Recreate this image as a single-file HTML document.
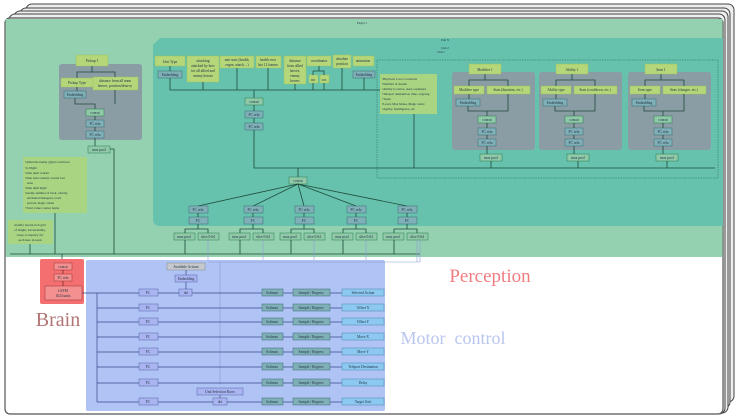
<!DOCTYPE html>
<html><head><meta charset="utf-8"><style>
html,body{margin:0;padding:0;background:#fff;width:740px;height:417px;overflow:hidden}
svg{display:block;font-family:"Liberation Serif",serif}
.t{font-size:3.6px;fill:#234;text-anchor:middle}
.f{fill:#b5d77a;stroke:#9cc060;stroke-width:.5}
.g{fill:#8fc9a8;stroke:#2a7a50;stroke-width:.5}
.b{fill:#7fb0b8;stroke:#3a6a70;stroke-width:.5}
.m{fill:#a9b4f0;stroke:#5566aa;stroke-width:.5}
.o{fill:#8cc8f0;stroke:#4a88b0;stroke-width:.5}
.l{stroke:#1f4a3a;stroke-width:.8;fill:none}
.lb{stroke:#3a4a8a;stroke-width:.7;fill:none}
</style></head><body>
<svg width="740" height="417" viewBox="0 0 740 417">
<!-- stacked frames -->
<rect x="26" y="4" width="708" height="398" rx="6" fill="#eee" stroke="#444"/>
<rect x="20" y="8" width="710" height="400" rx="6" fill="#eee" stroke="#444"/>
<rect x="14" y="11" width="714" height="402" rx="6" fill="#eee" stroke="#444"/>
<rect x="9" y="14" width="716" height="400" rx="6" fill="#eee" stroke="#444"/>
<rect x="5" y="18" width="718" height="396" rx="5" fill="#fff" stroke="#555" stroke-width="1.2"/>
<rect x="5.6" y="19" width="717" height="238" fill="#93d1b0"/>
<text x="362" y="24" class="t" style="font-size:3px">Player 1</text>
<!-- teal unit area -->
<path d="M160 38 L723 38 L723 226 L160 226 Q153 226 153 219 L153 45 Z" fill="#66c2ad"/>
<text x="445" y="41" class="t" style="font-size:3px">Unit N</text>
<text x="445" y="49" class="t" style="font-size:3px">Unit 2</text>
<text x="441" y="53" class="t" style="font-size:3px">Unit 1</text>
<rect x="377" y="60" width="341" height="118" fill="none" stroke="#2a6a5a" stroke-width=".5" stroke-dasharray="1.5 1"/>
<!-- pickup -->
<rect x="59" y="64" width="83" height="76" rx="3" fill="#8a9ca4"/>
<rect x="76" y="55" width="32" height="11" class="f"/><text x="92" y="62" class="t">Pickup 1</text>
<rect x="61" y="78" width="33" height="9" class="f"/><text x="77" y="84" class="t">Pickup Type</text>
<rect x="93" y="77" width="45" height="13" class="f"/><text x="115" y="82" class="t">distance from all team</text><text x="115" y="87" class="t">heroes, position/destroy</text>
<rect x="64" y="91" width="22" height="7" class="b"/><text x="75" y="96" class="t">Embedding</text>
<rect x="86" y="109" width="18" height="7" class="g"/><text x="95" y="114" class="t">concat</text>
<rect x="86" y="120" width="18" height="7" class="b"/><text x="95" y="125" class="t">FC relu</text>
<rect x="86" y="131" width="18" height="7" class="b"/><text x="95" y="136" class="t">FC relu</text>
<rect x="88" y="146" width="22" height="7" class="g"/><text x="99" y="151" class="t">max pool</text>
<path class="l" d="M92 66 V72 H77 V78 M92 72 H115 V77 M77 87 V91 M75 98 V104 H95 V109 M115 90 V104 M95 116 V120 M95 127 V131 M95 138 V146 M110 149 H114 V254"/>
<!-- left text boxes -->
<rect x="23" y="157" width="64" height="56" fill="#a9d482"/>
<g class="t" style="text-anchor:start;font-size:3.3px"><text x="25" y="163">•Allied &amp; enemy glyph cooldown</text><text x="25" y="169">•is Night</text><text x="25" y="174">•time until courier</text><text x="25" y="179">•time since enemy courier last</text><text x="27" y="184">seen</text><text x="25" y="189">•time until night</text><text x="25" y="194">•enemy number of back, charity,</text><text x="27" y="199">enchanted mangoes, town</text><text x="27" y="204">portals, magic sticks</text><text x="25" y="209">•Total value courier items</text></g>
<rect x="8" y="220" width="45" height="24" fill="#a9d482"/>
<g class="t" style="font-size:3.3px"><text x="30" y="226">modify terrain rich grid</text><text x="30" y="231">of height, traversability,</text><text x="30" y="236">creep occupancy for</text><text x="30" y="241">each hero in team</text></g>
<path class="l" d="M55 213 V254 M30 244 V254 M10 254 H420 M62 254 V259"/>
<!-- unit features -->
<rect x="155" y="56" width="30" height="10" class="f"/><text x="170" y="63" class="t">Unit Type</text>
<rect x="187" y="56" width="32" height="26" class="f"/><text x="203" y="62" class="t">attacking</text><text x="203" y="67" class="t">attacked by how</text><text x="203" y="72" class="t">for all allied and</text><text x="203" y="77" class="t">enemy heroes</text>
<rect x="220" y="56" width="34" height="12" class="f"/><text x="237" y="61" class="t">unit stats (health,</text><text x="237" y="66" class="t">regen, attack... )</text>
<rect x="256" y="56" width="25" height="12" class="f"/><text x="268" y="61" class="t">health over</text><text x="268" y="66" class="t">last 12 frames</text>
<rect x="284" y="56" width="22" height="28" class="f"/><text x="295" y="62" class="t">distance</text><text x="295" y="67" class="t">from allied</text><text x="295" y="72" class="t">heroes,</text><text x="295" y="77" class="t">enemy</text><text x="295" y="82" class="t">heroes</text>
<rect x="307" y="56" width="24" height="10" class="f"/><text x="319" y="62" class="t">coordinates</text>
<rect x="309" y="75" width="9" height="8" class="f"/><text x="313" y="81" class="t">sin</text>
<rect x="320" y="75" width="9" height="8" class="f"/><text x="324" y="81" class="t">cos</text>
<rect x="333" y="55" width="18" height="13" class="f"/><text x="342" y="60" class="t">absolute</text><text x="342" y="65" class="t">position</text>
<rect x="353" y="56" width="21" height="10" class="f"/><text x="363" y="62" class="t">animation</text>
<rect x="158" y="71" width="24" height="7" class="b"/><text x="170" y="76" class="t">Embedding</text>
<rect x="353" y="71" width="22" height="7" class="b"/><text x="364" y="76" class="t">Embedding</text>
<path class="l" d="M170 66 V71 M170 78 V90 M203 82 V90 M237 68 V90 M268 68 V90 M295 84 V90 M319 66 V71 M313 71 H324 V75 M313 71 V75 M313 83 V90 M324 83 V90 M342 68 V90 M364 78 V90 M170 90 H415 M254 90 V98"/>
<rect x="245" y="98" width="18" height="7" class="g"/><text x="254" y="103" class="t">concat</text>
<rect x="245" y="111" width="18" height="7" class="b"/><text x="254" y="116" class="t">FC relu</text>
<rect x="245" y="123" width="18" height="7" class="b"/><text x="254" y="128" class="t">FC relu</text>
<path class="l" d="M254 105 V111 M254 118 V123 M254 130 V168 H715 M298 168 V177"/>
<rect x="380" y="74" width="57" height="40" fill="#a9d482"/>
<g class="t" style="text-anchor:start;font-size:3.3px"><text x="382" y="80">•Buyback Cost, Cooldown</text><text x="382" y="85">•Number of deaths</text><text x="382" y="90">•Ability is active, used, orphaned</text><text x="382" y="95">•Teleport destination, time, ongoing</text><text x="382" y="100">•Team</text><text x="382" y="105">•Level, Max Mana, Magic resist</text><text x="382" y="110">•Agility, Intelligence, etc</text></g>
<path class="l" d="M414 114 V168"/>
<!-- modifier / ability / item -->
<g>
<rect x="452" y="72" width="83" height="78" rx="3" fill="#8a9ca4"/>
<rect x="469" y="64" width="32" height="10" class="f"/><text x="485" y="71" class="t">Modifier 1</text>
<rect x="454" y="86" width="30" height="8" class="f"/><text x="469" y="91" class="t">Modifier type</text>
<rect x="487" y="86" width="43" height="8" class="f"/><text x="508" y="91" class="t">Stats (duration, etc.)</text>
<rect x="456" y="99" width="24" height="7" class="b"/><text x="468" y="104" class="t">Embedding</text>
<rect x="478" y="116" width="18" height="7" class="g"/><text x="487" y="121" class="t">concat</text>
<rect x="478" y="128" width="18" height="7" class="b"/><text x="487" y="133" class="t">FC relu</text>
<rect x="478" y="139" width="18" height="7" class="b"/><text x="487" y="144" class="t">FC relu</text>
<rect x="480" y="154" width="22" height="7" class="g"/><text x="491" y="159" class="t">max pool</text>
<path class="l" d="M485 74 V80 H469 V86 M485 80 H508 V86 M469 94 V99 M468 106 V111 H487 V116 M508 94 V111 H487 M487 123 V128 M487 135 V139 M487 146 V154 M491 161 V168"/>
</g>
<g transform="translate(87,0)">
<rect x="452" y="72" width="83" height="78" rx="3" fill="#8a9ca4"/>
<rect x="469" y="64" width="32" height="10" class="f"/><text x="485" y="71" class="t">Ability 1</text>
<rect x="454" y="86" width="30" height="8" class="f"/><text x="469" y="91" class="t">Ability type</text>
<rect x="487" y="86" width="43" height="8" class="f"/><text x="508" y="91" class="t">Stats (cooldown, etc.)</text>
<rect x="456" y="99" width="24" height="7" class="b"/><text x="468" y="104" class="t">Embedding</text>
<rect x="478" y="116" width="18" height="7" class="g"/><text x="487" y="121" class="t">concat</text>
<rect x="478" y="128" width="18" height="7" class="b"/><text x="487" y="133" class="t">FC relu</text>
<rect x="478" y="139" width="18" height="7" class="b"/><text x="487" y="144" class="t">FC relu</text>
<rect x="480" y="154" width="22" height="7" class="g"/><text x="491" y="159" class="t">max pool</text>
<path class="l" d="M485 74 V80 H469 V86 M485 80 H508 V86 M469 94 V99 M468 106 V111 H487 V116 M508 94 V111 H487 M487 123 V128 M487 135 V139 M487 146 V154 M491 161 V168"/>
</g>
<g transform="translate(176,0)">
<rect x="452" y="72" width="83" height="78" rx="3" fill="#8a9ca4"/>
<rect x="469" y="64" width="32" height="10" class="f"/><text x="485" y="71" class="t">Item 1</text>
<rect x="454" y="86" width="30" height="8" class="f"/><text x="469" y="91" class="t">Item type</text>
<rect x="487" y="86" width="43" height="8" class="f"/><text x="508" y="91" class="t">Stats (charges, etc.)</text>
<rect x="456" y="99" width="24" height="7" class="b"/><text x="468" y="104" class="t">Embedding</text>
<rect x="478" y="116" width="18" height="7" class="g"/><text x="487" y="121" class="t">concat</text>
<rect x="478" y="128" width="18" height="7" class="b"/><text x="487" y="133" class="t">FC relu</text>
<rect x="478" y="139" width="18" height="7" class="b"/><text x="487" y="144" class="t">FC relu</text>
<rect x="480" y="154" width="22" height="7" class="g"/><text x="491" y="159" class="t">max pool</text>
<path class="l" d="M485 74 V80 H469 V86 M485 80 H508 V86 M469 94 V99 M468 106 V111 H487 V116 M508 94 V111 H487 M487 123 V128 M487 135 V139 M487 146 V154 M491 161 V168"/>
</g>
<!-- concat fan -->
<rect x="289" y="177" width="18" height="7" class="g"/><text x="298" y="182" class="t">concat</text>
<path class="l" d="M298 184 L198 206 M298 184 L253 206 M298 184 L304 206 M298 184 L356 206 M298 184 L407 206"/>
<g>
<rect x="189" y="206" width="19" height="7" class="b"/><text x="198" y="211" class="t">FC relu</text>
<rect x="189" y="217" width="19" height="7" class="b"/><text x="198" y="222" class="t">FC</text>
<rect x="174" y="233" width="21" height="7" class="g"/><text x="184" y="238" class="t">max pool</text>
<rect x="198" y="233" width="21" height="7" class="g"/><text x="208" y="238" class="t">slice 0:64</text>
<path class="l" d="M198 213 V217 M198 224 V229 H185 V233 M198 229 H208 V233 M185 240 V254"/>
<path d="M208 240 V262" stroke="#8f9ad8" stroke-width=".6" fill="none"/>
</g>
<g transform="translate(55,0)">
<rect x="189" y="206" width="19" height="7" class="b"/><text x="198" y="211" class="t">FC relu</text>
<rect x="189" y="217" width="19" height="7" class="b"/><text x="198" y="222" class="t">FC</text>
<rect x="174" y="233" width="21" height="7" class="g"/><text x="184" y="238" class="t">max pool</text>
<rect x="198" y="233" width="21" height="7" class="g"/><text x="208" y="238" class="t">slice 0:64</text>
<path class="l" d="M198 213 V217 M198 224 V229 H185 V233 M198 229 H208 V233 M185 240 V254"/>
<path d="M208 240 V262" stroke="#8f9ad8" stroke-width=".6" fill="none"/>
</g>
<g transform="translate(106,0)">
<rect x="189" y="206" width="19" height="7" class="b"/><text x="198" y="211" class="t">FC relu</text>
<rect x="189" y="217" width="19" height="7" class="b"/><text x="198" y="222" class="t">FC</text>
<rect x="174" y="233" width="21" height="7" class="g"/><text x="184" y="238" class="t">max pool</text>
<rect x="198" y="233" width="21" height="7" class="g"/><text x="208" y="238" class="t">slice 0:64</text>
<path class="l" d="M198 213 V217 M198 224 V229 H185 V233 M198 229 H208 V233 M185 240 V254"/>
<path d="M208 240 V262" stroke="#8f9ad8" stroke-width=".6" fill="none"/>
</g>
<g transform="translate(158,0)">
<rect x="189" y="206" width="19" height="7" class="b"/><text x="198" y="211" class="t">FC relu</text>
<rect x="189" y="217" width="19" height="7" class="b"/><text x="198" y="222" class="t">FC</text>
<rect x="174" y="233" width="21" height="7" class="g"/><text x="184" y="238" class="t">max pool</text>
<rect x="198" y="233" width="21" height="7" class="g"/><text x="208" y="238" class="t">slice 0:64</text>
<path class="l" d="M198 213 V217 M198 224 V229 H185 V233 M198 229 H208 V233 M185 240 V254"/>
<path d="M208 240 V262" stroke="#8f9ad8" stroke-width=".6" fill="none"/>
</g>
<g transform="translate(209,0)">
<rect x="189" y="206" width="19" height="7" class="b"/><text x="198" y="211" class="t">FC relu</text>
<rect x="189" y="217" width="19" height="7" class="b"/><text x="198" y="222" class="t">FC</text>
<rect x="174" y="233" width="21" height="7" class="g"/><text x="184" y="238" class="t">max pool</text>
<rect x="198" y="233" width="21" height="7" class="g"/><text x="208" y="238" class="t">slice 0:64</text>
<path class="l" d="M198 213 V217 M198 224 V229 H185 V233 M198 229 H208 V233 M185 240 V254"/>
<path d="M208 240 V262" stroke="#8f9ad8" stroke-width=".6" fill="none"/>
</g>
<!-- brain -->
<rect x="40" y="259" width="44" height="45" rx="2" fill="#f47070"/>
<rect x="54" y="263" width="18" height="7" fill="#f39090" stroke="#a03030" stroke-width=".5"/><text x="63" y="268" class="t">concat</text>
<rect x="54" y="274" width="18" height="7" fill="#f39090" stroke="#a03030" stroke-width=".5"/><text x="63" y="279" class="t">FC relu</text>
<rect x="45" y="286" width="37" height="14" fill="#f39090" stroke="#a03030" stroke-width=".5"/><text x="63" y="292" class="t">LSTM</text><text x="63" y="297" class="t">1024 units</text>
<path d="M63 270 V274 M63 281 V286" stroke="#702020" stroke-width=".7"/>
<text x="58" y="326" style="font-size:20px;fill:#b37474;text-anchor:middle">Brain</text>
<text x="490" y="282" style="font-size:19px;fill:#f07c80;text-anchor:middle">Perception</text>
<text x="453" y="344" style="font-size:18px;fill:#b9c6ee;text-anchor:middle">Motor&#160; control</text>
<!-- motor -->
<rect x="86" y="260" width="299" height="151" rx="2" fill="#afc3f4"/>
<path d="M208 262 H420 V240 M232 262 V262 M220 262 V385" stroke="#8f9ad8" stroke-width=".6" fill="none"/>
<rect x="167" y="263" width="38" height="7" fill="#c5c8cc" stroke="#888" stroke-width=".5"/><text x="186" y="268" class="t">Available Actions</text>
<rect x="175" y="275" width="22" height="7" class="m"/><text x="186" y="280" class="t">Embedding</text>
<rect x="179" y="289" width="13" height="7" class="m"/><text x="186" y="294" class="t">dot</text>
<path class="lb" d="M186 270 V275 M186 282 V289 M82 293 H97 V402"/>
<rect x="197" y="388" width="46" height="7" class="m"/><text x="220" y="393" class="t">Unit Selection Rows</text>
<rect x="213" y="398" width="14" height="7" class="m"/><text x="220" y="403" class="t">dot</text>
<path class="lb" d="M220 395 V398"/>
<g class="lb">
<path d="M97 293 H139 M158 293 H179 M192 293 H262 M283 293 H293 M330 293 H342"/>
<path d="M97 308 H139 M158 308 H262 M283 308 H293 M330 308 H342"/>
<path d="M97 322 H139 M158 322 H262 M283 322 H293 M330 322 H342"/>
<path d="M97 337 H139 M158 337 H262 M283 337 H293 M330 337 H342"/>
<path d="M97 352 H139 M158 352 H262 M283 352 H293 M330 352 H342"/>
<path d="M97 367 H139 M158 367 H262 M283 367 H293 M330 367 H342"/>
<path d="M97 383 H139 M158 383 H262 M283 383 H293 M330 383 H342"/>
<path d="M97 402 H139 M158 402 H213 M227 402 H262 M283 402 H293 M330 402 H342"/>
</g>
<g>
<rect x="139" y="289" width="19" height="7" class="m"/><text x="148" y="294" class="t">FC</text>
<rect x="139" y="304" width="19" height="7" class="m"/><text x="148" y="309" class="t">FC</text>
<rect x="139" y="318" width="19" height="7" class="m"/><text x="148" y="323" class="t">FC</text>
<rect x="139" y="333" width="19" height="7" class="m"/><text x="148" y="338" class="t">FC</text>
<rect x="139" y="348" width="19" height="7" class="m"/><text x="148" y="353" class="t">FC</text>
<rect x="139" y="363" width="19" height="7" class="m"/><text x="148" y="368" class="t">FC</text>
<rect x="139" y="379" width="19" height="7" class="m"/><text x="148" y="384" class="t">FC</text>
<rect x="139" y="398" width="19" height="7" class="m"/><text x="148" y="403" class="t">FC</text>
</g>
<g>
<rect x="262" y="289" width="21" height="7" class="b"/><text x="272" y="294" class="t">Softmax</text>
<rect x="262" y="304" width="21" height="7" class="b"/><text x="272" y="309" class="t">Softmax</text>
<rect x="262" y="318" width="21" height="7" class="b"/><text x="272" y="323" class="t">Softmax</text>
<rect x="262" y="333" width="21" height="7" class="b"/><text x="272" y="338" class="t">Softmax</text>
<rect x="262" y="348" width="21" height="7" class="b"/><text x="272" y="353" class="t">Softmax</text>
<rect x="262" y="363" width="21" height="7" class="b"/><text x="272" y="368" class="t">Softmax</text>
<rect x="262" y="379" width="21" height="7" class="b"/><text x="272" y="384" class="t">Softmax</text>
<rect x="262" y="398" width="21" height="7" class="b"/><text x="272" y="403" class="t">Softmax</text>
</g>
<g>
<rect x="293" y="289" width="37" height="7" class="b"/><text x="311" y="294" class="t">Sample / Regress</text>
<rect x="293" y="304" width="37" height="7" class="b"/><text x="311" y="309" class="t">Sample / Regress</text>
<rect x="293" y="318" width="37" height="7" class="b"/><text x="311" y="323" class="t">Sample / Regress</text>
<rect x="293" y="333" width="37" height="7" class="b"/><text x="311" y="338" class="t">Sample / Regress</text>
<rect x="293" y="348" width="37" height="7" class="b"/><text x="311" y="353" class="t">Sample / Regress</text>
<rect x="293" y="363" width="37" height="7" class="b"/><text x="311" y="368" class="t">Sample / Regress</text>
<rect x="293" y="379" width="37" height="7" class="b"/><text x="311" y="384" class="t">Sample / Regress</text>
<rect x="293" y="398" width="37" height="7" class="b"/><text x="311" y="403" class="t">Sample / Regress</text>
</g>
<g>
<rect x="342" y="289" width="42" height="7" class="o"/><text x="363" y="294" class="t">Selected Action</text>
<rect x="342" y="304" width="42" height="7" class="o"/><text x="363" y="309" class="t">Offset X</text>
<rect x="342" y="318" width="42" height="7" class="o"/><text x="363" y="323" class="t">Offset Y</text>
<rect x="342" y="333" width="42" height="7" class="o"/><text x="363" y="338" class="t">Move X</text>
<rect x="342" y="348" width="42" height="7" class="o"/><text x="363" y="353" class="t">Move Y</text>
<rect x="342" y="363" width="42" height="7" class="o"/><text x="363" y="368" class="t">Teleport Destination</text>
<rect x="342" y="379" width="42" height="7" class="o"/><text x="363" y="384" class="t">Delay</text>
<rect x="342" y="398" width="42" height="7" class="o"/><text x="363" y="403" class="t">Target Unit</text>
</g>
</svg>
</body></html>
